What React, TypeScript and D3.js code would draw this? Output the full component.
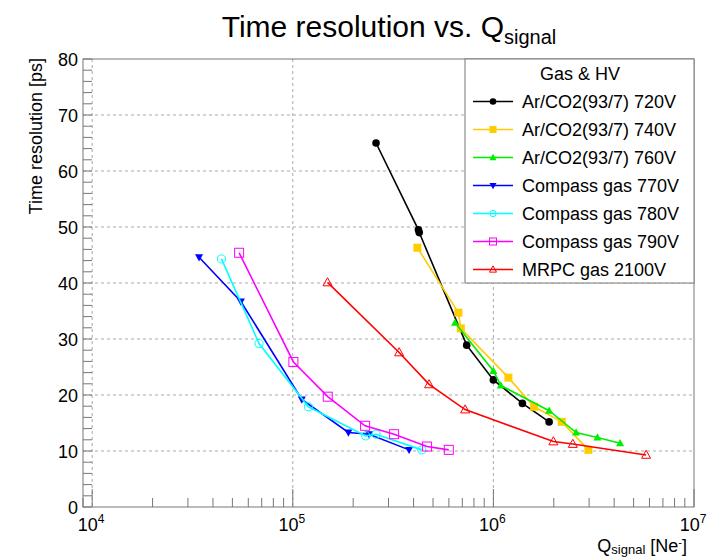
import React from "react";
import * as d3 from "d3";

const W = 723, H = 558;
const FONT = "'Liberation Sans', Arial, Helvetica, sans-serif";

// data
const ar720X = [260000, 423000, 427000, 736000, 1000000, 1395000, 1896000];
const ar720Y = [65.0, 49.5, 49.0, 28.9, 22.7, 18.5, 15.2];
const ar740X = [418000, 669000, 688000, 1188000, 1596000, 2193000, 2976000];
const ar740Y = [46.3, 34.7, 31.9, 23.1, 17.9, 15.2, 10.2];
const ar760X = [644000, 1000000, 1089000, 1896000, 2584000, 3299000, 4281000];
const ar760Y = [32.9, 24.3, 21.7, 17.2, 13.3, 12.4, 11.4];
const cp770X = [34100, 55100, 110900, 189300, 240100, 380000];
const cp770Y = [44.6, 36.7, 19.2, 13.3, 13.0, 10.2];
const cp780X = [44100, 67900, 119600, 231100, 260200, 439500];
const cp780Y = [44.3, 29.2, 17.9, 12.7, 13.0, 10.2];
const cp790X = [54000, 100700, 149400, 229300, 319900, 467000, 599300];
const cp790Y = [45.4, 25.9, 19.7, 14.5, 13.0, 10.8, 10.2];
const mrpcX = [149000, 339000, 478000, 723000, 1991000, 2488000, 5770000];
const mrpcY = [40.1, 27.6, 21.9, 17.4, 11.7, 11.25, 9.3];

const seriesNames = [
  "Ar/CO2(93/7) 720V",
  "Ar/CO2(93/7) 740V",
  "Ar/CO2(93/7) 760V",
  "Compass gas 770V",
  "Compass gas 780V",
  "Compass gas 790V",
  "MRPC gas 2100V",
];
const seriesColors = ["#000000", "#ffcc00", "#00ee00", "#0000ff", "#00ffff", "#ff00ff", "#ff0000"];
const seriesMarkers = ["circle", "square", "triUp", "triDown", "openCircle", "openSquare", "openTriUp"];
const seriesX = [ar720X, ar740X, ar760X, cp770X, cp780X, cp790X, mrpcX];
const seriesY = [ar720Y, ar740Y, ar760Y, cp770Y, cp780Y, cp790Y, mrpcY];

const yTicks = [0, 10, 20, 30, 40, 50, 60, 70, 80];
const xMajor = [1e4, 1e5, 1e6, 1e7];
const xExp = ["4", "5", "6", "7"];

const L = 83, R = 694, T = 59, B = 507;

function Marker({ kind, x, y, color, s }: { kind: string; x: number; y: number; color: string; s: number }) {
  const h = s / 2;
  switch (kind) {
    case "circle":
      return <circle cx={x} cy={y} r={h * 0.95} fill={color} />;
    case "square":
      return <rect x={x - h} y={y - h} width={s} height={s} fill={color} />;
    case "triUp":
      return <path d={`M${x},${y - h * 1.05}L${x + h},${y + h * 0.75}L${x - h},${y + h * 0.75}Z`} fill={color} />;
    case "triDown":
      return <path d={`M${x},${y + h * 1.05}L${x + h},${y - h * 0.75}L${x - h},${y - h * 0.75}Z`} fill={color} />;
    case "openCircle":
      return <circle cx={x} cy={y} r={h * 0.9} fill="none" stroke={color} strokeWidth={1} />;
    case "openSquare":
      return <rect x={x - h} y={y - h} width={s} height={s} fill="none" stroke={color} strokeWidth={1} />;
    case "openTriUp":
      return <path d={`M${x},${y - h * 1.05}L${x + h},${y + h * 0.75}L${x - h},${y + h * 0.75}Z`} fill="none" stroke={color} strokeWidth={1} />;
  }
  return null;
}

export default function App() {
  const x = d3.scaleLog().domain([9000, 1e7]).range([L, R]);
  const y = d3.scaleLinear().domain([0, 80]).range([B, T]);
  const line = d3.line<[number, number]>().x((d) => x(d[0])).y((d) => y(d[1]));

  const xMinor: number[] = [];
  for (let e = 3; e < 7; e++) for (let k = 2; k <= 9; k++) {
    const v = k * Math.pow(10, e);
    if (v >= 9000 && v <= 1e7) xMinor.push(v);
  }
  const yMinor = d3.range(0, 81, 2).filter((v) => v % 10 !== 0);

  const axisCol = "#777";
  const gridCol = "#aaa";

  const legX = 465, legY = 59, legW = 229, legH = 224;

  return (
    <svg width={W} height={H} style={{ position: "absolute", left: 0, top: 0, background: "#fff" }} fontFamily={FONT}>
      <rect x={0} y={0} width={W} height={H} fill="#fff" />
      {/* title */}
      <text x={389} y={37} textAnchor="middle" fontSize={30} fill="#000">
        Time resolution vs. Q<tspan fontSize={20} dy={7}>signal</tspan>
      </text>
      {/* grid */}
      {xMajor.filter((v) => x(v) > L + 1 && x(v) < R - 1).map((v) => (
        <line key={"gx" + v} x1={x(v)} x2={x(v)} y1={T} y2={B} stroke={gridCol} strokeDasharray="3,3" strokeWidth={1} />
      ))}
      {yTicks.filter((v) => v > 0 && v < 80).map((v) => (
        <line key={"gy" + v} x1={L} x2={R} y1={y(v)} y2={y(v)} stroke={gridCol} strokeDasharray="3,3" strokeWidth={1} />
      ))}
      {/* frame */}
      <rect x={L} y={T} width={R - L} height={B - T} fill="none" stroke={axisCol} strokeWidth={1} />
      {/* y ticks */}
      {yTicks.map((v) => (
        <line key={"yt" + v} x1={L} x2={L + 9} y1={y(v)} y2={y(v)} stroke={axisCol} />
      ))}
      {yMinor.map((v) => (
        <line key={"ym" + v} x1={L} x2={L + 9} y1={y(v)} y2={y(v)} stroke={axisCol} />
      ))}
      {yTicks.map((v) => (
        <text key={"yl" + v} x={78} y={y(v) + 6.5} textAnchor="end" fontSize={18} fill="#000">{v}</text>
      ))}
      {/* x ticks */}
      {xMajor.map((v) => (
        <line key={"xt" + v} x1={x(v)} x2={x(v)} y1={B} y2={B - 18} stroke={axisCol} />
      ))}
      {xMinor.map((v) => (
        <line key={"xm" + v} x1={x(v)} x2={x(v)} y1={B} y2={B - 9} stroke={axisCol} />
      ))}
      {xMajor.map((v, i) => (
        <text key={"xl" + v} x={x(v) - 1} y={531} textAnchor="middle" fontSize={18} fill="#000">
          10<tspan fontSize={12} dy={-8}>{xExp[i]}</tspan>
        </text>
      ))}
      {/* axis titles */}
      <text x={687} y={552} textAnchor="end" fontSize={18} fill="#000">
        Q<tspan fontSize={13} dy={2}>signal</tspan><tspan dy={-2}> [Ne</tspan><tspan fontSize={11} dy={-6}>-</tspan><tspan dy={6}>]</tspan>
      </text>
      <text transform={`translate(42,58) rotate(-90)`} textAnchor="end" fontSize={18} fill="#000">
        Time resolution [ps]
      </text>
      {/* series */}
      {seriesX.map((xs, si) => {
        const pts: [number, number][] = xs.map((v, i) => [v, seriesY[si][i]]);
        return (
          <g key={"s" + si}>
            <path d={line(pts) || ""} fill="none" stroke={seriesColors[si]} strokeWidth={1.6} />
            {pts.map((p, i) => (
              <Marker key={i} kind={seriesMarkers[si]} x={x(p[0])} y={y(p[1])} color={seriesColors[si]} s={si < 4 ? 8 : 9} />
            ))}
          </g>
        );
      })}
      {/* legend */}
      <rect x={legX} y={legY} width={legW} height={legH} fill="#fff" stroke={axisCol} strokeWidth={1} />
      <text x={580} y={80} textAnchor="middle" fontSize={18} fill="#000">Gas &amp; HV</text>
      {seriesNames.map((n, i) => {
        const cy = 101.5 + i * 28;
        return (
          <g key={"lg" + i}>
            <line x1={473} x2={513} y1={cy} y2={cy} stroke={seriesColors[i]} strokeWidth={1.6} />
            <Marker kind={seriesMarkers[i]} x={493} y={cy} color={seriesColors[i]} s={7} />
            <text x={522} y={cy + 6.5} fontSize={18} fill="#000">{n}</text>
          </g>
        );
      })}
    </svg>
  );
}
